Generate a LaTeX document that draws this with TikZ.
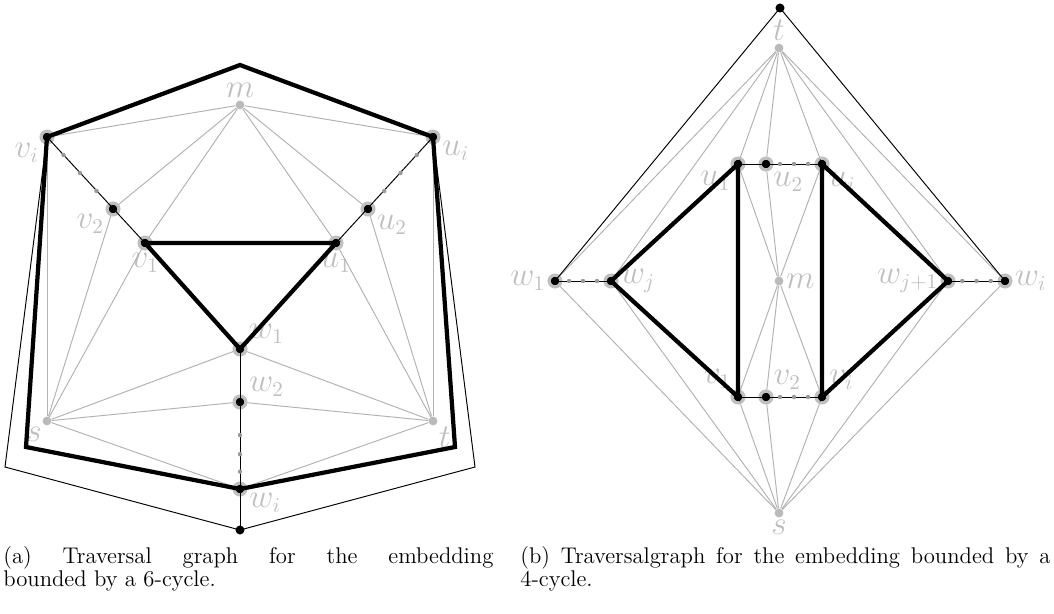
\documentclass[tikz,border=0pt]{standalone}
\usepackage{amsmath,amssymb}
\usepackage{tikz}
\usetikzlibrary{calc}

\tikzset{
  vtx/.style={circle, fill=black, draw=black!25, line width=1.7pt, minimum size=6.1pt, inner sep=0pt},
  hub/.style={circle, fill=black!27, minimum size=4.6pt, inner sep=0pt},
  pole/.style={circle, fill=black, minimum size=4.7pt, inner sep=0pt},
  lbl/.style={text=black!25, inner sep=1pt, font=\fontsize{16}{19}\selectfont},
  faint/.style={black!30, line width=0.5pt},
  link/.style={black, line width=0.5pt},
  cyc/.style={black, line width=2.2pt},
  pip/.style={fill=black!40},
  capt/.style={anchor=north west, align=justify, inner sep=0pt, font=\fontsize{11.8}{12.2}\selectfont},
}

\begin{document}
\begin{tikzpicture}[x=5.2pt, y=-5.2pt]
  \useasboundingbox (0,0) rectangle (105.4,61.3);

  % (a) the 6-cycle
  \begin{scope}
    \node[hub, label={[lbl]above:$m$}] (m) at (24.0,10.5) {};
    \node[vtx, label={[lbl]215:$v_i$}] (vi) at (4.7,13.7) {};
    \node[vtx, label={[lbl]-18:$u_i$}] (ui) at (43.3,13.7) {};
    \node[vtx, label={[lbl]205:$v_2$}] (v2) at (11.3,20.9) {};
    \node[vtx, label={[lbl]-30:$u_2$}] (u2) at (36.8,20.9) {};
    \node[vtx, label={[lbl]-88:$v_1$}] (v1) at (14.5,24.3) {};
    \node[vtx, label={[lbl]-92:$u_1$}] (u1) at (33.6,24.3) {};
    \node[vtx, label={[lbl]27:$w_1$}] (w1) at (24.0,34.9) {};
    \node[vtx, label={[lbl]23:$w_2$}] (w2) at (24.0,40.2) {};
    \node[vtx, label={[lbl]-17:$w_i$}] (wi) at (24.0,48.9) {};
    \node[hub, label={[lbl]230:$s$}] (s) at (4.7,42.1) {};
    \node[hub, label={[lbl]-43:$t$}] (t) at (43.3,42.1) {};
    \node[pole] (bot) at (24.0,53.0) {};
    \coordinate (peak) at (24.0,6.5);
    \coordinate (tl) at (2.6,44.7);
    \coordinate (tr) at (45.5,44.7);
    \coordinate (ol) at (0.5,46.7);
    \coordinate (or) at (47.5,46.7);

    \foreach \a in {vi,v2,v1,ui,u2,u1}
      \draw[faint] (m) -- (\a);
    \foreach \a in {vi,v2,v1,w1,w2,wi}
      \draw[faint] (s) -- (\a);
    \foreach \a in {ui,u2,u1,w1,w2,wi}
      \draw[faint] (t) -- (\a);

    \draw[link] (vi.center) -- (v1.center);
    \draw[link] (ui.center) -- (u1.center);
    \draw[link] (w1.center) -- (bot.center);
    \draw[link] (vi.center) -- (ol) -- (bot.center) -- (or) -- (ui.center);

    \draw[cyc] (v1.center) -- (u1.center) -- (w1.center) -- cycle;
    \draw[cyc] (vi.center) -- (peak) -- (ui.center) -- (tr) -- (wi.center) -- (tl) -- cycle;

    \foreach \f in {0.25,0.5,0.75} {
      \fill[pip] ($(vi)!\f!(v2)$) circle (1.15pt);
      \fill[pip] ($(ui)!\f!(u2)$) circle (1.15pt);
    }
    \foreach \f in {0.38,0.6,0.8}
      \fill[pip] ($(w2)!\f!(wi)$) circle (1.15pt);

    \node[capt, text width=254.8pt] (capa) at (0.3,54.6)
      {\tolerance=10000 (a) Traversal graph for the embedding\linebreak bounded by a 6-cycle.};
  \end{scope}

  % (b) the 4-cycle
  \begin{scope}[name prefix=b-]
    \node[pole] (top) at (78.0,0.8) {};
    \node[hub, label={[lbl]above:$t$}] (t) at (77.9,4.8) {};
    \node[vtx, label={[lbl]225:$u_1$}] (u1) at (73.8,16.4) {};
    \node[vtx, label={[lbl]-50:$u_2$}] (u2) at (76.6,16.4) {};
    \node[vtx, label={[lbl]-55:$u_i$}] (ui) at (82.2,16.4) {};
    \node[hub, label={[lbl]right:$m$}] (m) at (77.9,28.1) {};
    \node[vtx, label={[lbl]127:$v_1$}] (v1) at (73.8,39.7) {};
    \node[vtx, label={[lbl]45:$v_2$}] (v2) at (76.6,39.7) {};
    \node[vtx, label={[lbl]48:$v_i$}] (vi) at (82.2,39.7) {};
    \node[vtx, label={[lbl]left:$w_1$}] (w1) at (55.5,28.1) {};
    \node[vtx, label={[lbl]right:$w_j$}] (wj) at (61.1,28.1) {};
    \node[vtx, label={[lbl]left:$w_{j+1}$}] (wk) at (94.8,28.1) {};
    \node[vtx, label={[lbl]right:$w_i$}] (wi) at (100.5,28.1) {};
    \node[hub, label={[lbl]below:$s$}] (s) at (77.9,51.3) {};

    \foreach \a in {w1,wj,u1,u2,ui,wk,wi}
      \draw[faint] (t) -- (\a);
    \foreach \a in {w1,wj,v1,v2,vi,wk,wi}
      \draw[faint] (s) -- (\a);
    \foreach \a in {u1,u2,ui,v1,v2,vi}
      \draw[faint] (m) -- (\a);

    \draw[link] (w1.center) -- (top.center) -- (wi.center);
    \draw[link] (w1.center) -- (wj.center);
    \draw[link] (wk.center) -- (wi.center);
    \draw[link] (u1.center) -- (ui.center);
    \draw[link] (v1.center) -- (vi.center);

    \draw[cyc] (wj.center) -- (u1.center) -- (v1.center) -- cycle;
    \draw[cyc] (wk.center) -- (ui.center) -- (vi.center) -- cycle;

    \foreach \f in {0.25,0.5,0.75} {
      \fill[pip] ($(w1)!\f!(wj)$) circle (1.15pt);
      \fill[pip] ($(u2)!\f!(ui)$) circle (1.15pt);
      \fill[pip] ($(v2)!\f!(vi)$) circle (1.15pt);
      \fill[pip] ($(wk)!\f!(wi)$) circle (1.15pt);
    }

    \node[capt, text width=275.6pt] (capb) at (52.0,54.6)
      {\tolerance=10000 (b) Traversalgraph for the embedding bounded by a\linebreak 4-cycle.};
  \end{scope}
\end{tikzpicture}
\end{document}
